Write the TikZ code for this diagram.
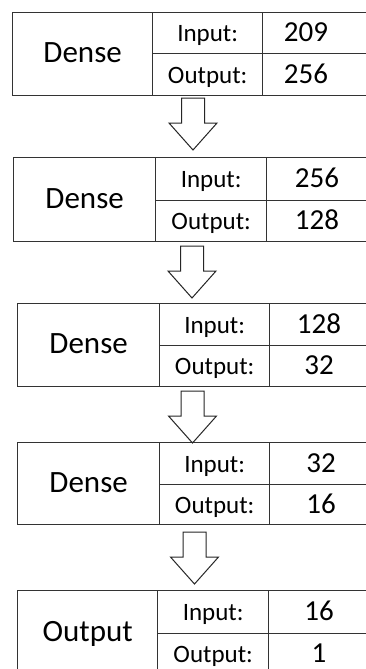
\documentclass[tikz,border=0pt]{standalone}
\usepackage{fontspec}
\setmainfont{Carlito}
\begin{document}
\begin{tikzpicture}[x=1pt,y=-1pt,
  cell/.style={draw=black!80, line width=1.3pt, inner sep=0pt, anchor=north west,
    text depth=0pt},
  titlefont/.style={font=\fontsize{31}{36}\selectfont, text height=17pt},
  labelfont/.style={font=\fontsize{25}{29}\selectfont, text height=17pt},
  num/.style={inner sep=0pt, text height=18.5pt, text depth=0pt,
    font=\fontsize{29}{34}\selectfont},
  arrowline/.style={draw=black!85, line width=1pt, fill=white, line join=miter},
  blockarrow/.pic={\draw[arrowline] (-11.5,0) -- (-11.5,25) -- (-24,25) -- (0,52)
     -- (24,25) -- (11.5,25) -- (11.5,0) -- cycle;}]
\useasboundingbox (0,0) rectangle (366,669);
\clip (0,0) rectangle (366,669);
\fill[white] (0,0) rectangle (366,669);
\foreach \i/\l/\t/\m/\b/\da/\db/\ttl/\vin/\vout/\nx in {
  1/12/12/53/95/152/262/Dense/209/256/306,
  2/13/157/200/241/155/266/Dense/256/128/317,
  3/17/303/345/386/159/269/Dense/128/32/319,
  4/17/442/484/524/159/269/Dense/32/16/321,
  5/17/590/633/674/157/268/Output/16/1/319}{
  \node[cell, titlefont, minimum width={\da-\l}, minimum height={\b-\t}] (t\i) at (\l,\t) {\ttl};
  \node[cell, labelfont, minimum width={\db-\da}, minimum height={\m-\t}] (i\i) at (\da,\t) {Input:};
  \node[cell, labelfont, minimum width={\db-\da}, minimum height={\b-\m}] (o\i) at (\da,\m) {Output:};
  \node[cell, minimum width=160, minimum height={\m-\t}] (vi\i) at (\db,\t) {};
  \node[cell, minimum width=160, minimum height={\b-\m}] (vo\i) at (\db,\m) {};
  \node[num] (ni\i) at (\nx,{(\t+\m)/2}) {\vin};
  \node[num] (no\i) at (\nx,{(\m+\b)/2}) {\vout};
}
\coordinate (a1) at (193,98);
\coordinate (a2) at (192,246);
\coordinate (a3) at (192.5,391);
\coordinate (a4) at (194.5,532);
\pic at (a1) {blockarrow};
\pic at (a2) {blockarrow};
\pic at (a3) {blockarrow};
\pic at (a4) {blockarrow};
\end{tikzpicture}
\end{document}
